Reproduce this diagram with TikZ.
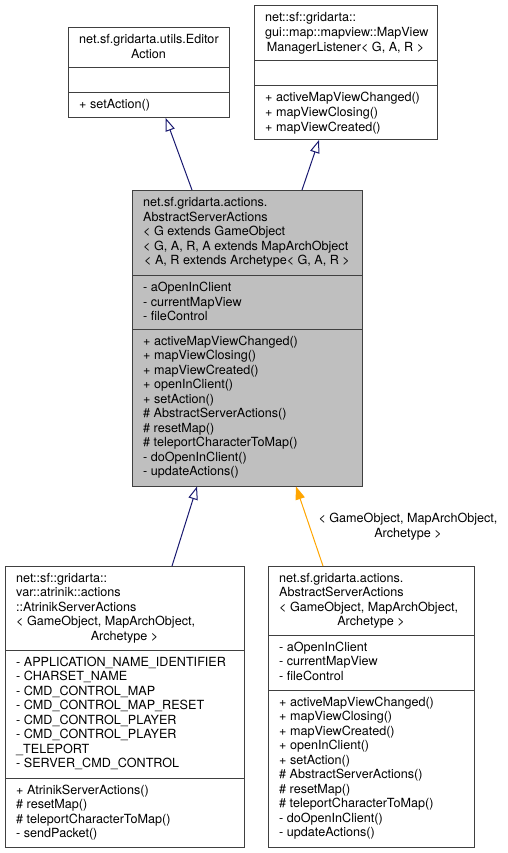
\documentclass[tikz,border=0pt]{standalone}
\usepackage{fontspec}
\setmainfont{TeX Gyre Heros}
\usepackage{xcolor}
\usetikzlibrary{arrows.meta,positioning}

\definecolor{edgeblue}{HTML}{191970}
\definecolor{edgeorange}{HTML}{FFA500}
\definecolor{boxline}{HTML}{404040}
\definecolor{boxgray}{HTML}{BFBFBF}

\tikzset{
  classbox/.style={rectangle, draw=boxline, line width=1pt, fill=white, inner sep=0pt, outer sep=0pt},
  members/.style={anchor=base west, align=left, inner sep=0pt, font=\fontsize{12.6}{14.55}\selectfont},
  lastline/.style={anchor=base, align=center, inner sep=0pt, font=\fontsize{12.6}{14.55}\selectfont},
  sep/.style={draw=boxline, line width=1pt},
  inherit/.style={draw=edgeblue, line width=1pt, -{Triangle[open, length=13pt, width=9.5pt, fill=white]}},
  bound/.style={draw=edgeorange, line width=1pt, -{Triangle[length=13pt, width=9.5pt]}}
}

\begin{document}
\begin{tikzpicture}[x=1pt, y=-1pt]
    \useasboundingbox (0,0) rectangle (507,853);

    % EditorAction
    \node[classbox, minimum width=161pt, minimum height=90pt] (editor) at (148.5,73) {};
    \draw[sep] (editor.west |- 0,68) -- (editor.east |- 0,68);
    \draw[sep] (editor.west |- 0,93) -- (editor.east |- 0,93);
    \node[members] (editor-name) at (79,44) {net.sf.gridarta.utils.Editor};
    \node[lastline] (editor-name2) at (148.5,58.5) {Action};
    \node[members] (editor-ops) at (79,109) {+ setAction()};

    % MapViewManagerListener
    \node[classbox, minimum width=183pt, minimum height=134pt] (listener) at (345.5,73) {};
    \draw[sep] (listener.west |- 0,60.5) -- (listener.east |- 0,60.5);
    \draw[sep] (listener.west |- 0,86) -- (listener.east |- 0,86);
    \node[members] (listener-name) at (265,36.55) {net::sf::gridarta::\\gui::map::mapview::MapView};
    \node[lastline] (listener-name2) at (345.5,51.1) {ManagerListener< G, A, R >};
    \node[members] (listener-ops) at (265,131.1) {+ activeMapViewChanged()\\+ mapViewClosing()\\+ mapViewCreated()};

    % AbstractServerActions (generic)
    \node[classbox, fill=boxgray, minimum width=230pt, minimum height=296.5pt] (actions) at (247,338.25) {};
    \draw[sep] (actions.west |- 0,275.5) -- (actions.east |- 0,275.5);
    \draw[sep] (actions.west |- 0,329) -- (actions.east |- 0,329);
    \node[members] (actions-name) at (143,250.15) {net.sf.gridarta.actions.\\AbstractServerActions\\< G extends GameObject\\< G, A, R, A extends MapArchObject};
    \node[lastline] (actions-name2) at (247,264.7) {< A, R extends Archetype< G, A, R >};
    \node[members] (actions-attrs) at (143,320.6) {- aOpenInClient\\- currentMapView\\- fileControl};
    \node[members] (actions-ops) at (143,475.95) {+ activeMapViewChanged()\\+ mapViewClosing()\\+ mapViewCreated()\\+ openInClient()\\+ setAction()\\\# AbstractServerActions()\\\# resetMap()\\\# teleportCharacterToMap()\\- doOpenInClient()\\- updateActions()};

    % AtrinikServerActions
    \node[classbox, minimum width=239pt, minimum height=281pt] (atrinik) at (124.5,706.5) {};
    \draw[sep] (atrinik.west |- 0,650) -- (atrinik.east |- 0,650);
    \draw[sep] (atrinik.west |- 0,778) -- (atrinik.east |- 0,778);
    \node[members] (atrinik-name) at (16,625.65) {net::sf::gridarta::\\var::atrinik::actions\\::AtrinikServerActions\\< GameObject, MapArchObject,};
    \node[lastline] (atrinik-name2) at (124.5,640.2) {Archetype >};
    \node[members] (atrinik-attrs) at (16,767.85) {- APPLICATION\_NAME\_IDENTIFIER\\- CHARSET\_NAME\\- CMD\_CONTROL\_MAP\\- CMD\_CONTROL\_MAP\_RESET\\- CMD\_CONTROL\_PLAYER\\- CMD\_CONTROL\_PLAYER\\\_TELEPORT\\- SERVER\_CMD\_CONTROL};
    \node[members] (atrinik-ops) at (16,837.65) {+ AtrinikServerActions()\\\# resetMap()\\\# teleportCharacterToMap()\\- sendPacket()};

    % AbstractServerActions (bound)
    \node[classbox, minimum width=206pt, minimum height=281pt] (bound) at (371,706.5) {};
    \draw[sep] (bound.west |- 0,635) -- (bound.east |- 0,635);
    \draw[sep] (bound.west |- 0,690) -- (bound.east |- 0,690);
    \node[members] (bound-name) at (279,611.1) {net.sf.gridarta.actions.\\AbstractServerActions\\< GameObject, MapArchObject,};
    \node[lastline] (bound-name2) at (371,625.6) {Archetype >};
    \node[members] (bound-attrs) at (279,680.1) {- aOpenInClient\\- currentMapView\\- fileControl};
    \node[members] (bound-ops) at (279,836.95) {+ activeMapViewChanged()\\+ mapViewClosing()\\+ mapViewCreated()\\+ openInClient()\\+ setAction()\\\# AbstractServerActions()\\\# resetMap()\\\# teleportCharacterToMap()\\- doOpenInClient()\\- updateActions()};

    % Inheritance
    \draw[inherit] (actions.north -| 192,0) -- (editor.south -| 165.7,0);
    \draw[inherit] (actions.north -| 302,0) -- (listener.south -| 319,0);
    \draw[inherit] (atrinik.north -| 172,0) -- (actions.south -| 197,0);
    \draw[bound] (bound.north -| 323,0) -- (actions.south -| 296,0);
    \node[lastline] (bound-args) at (408,537.5) {< GameObject, MapArchObject,\\Archetype >};

\end{tikzpicture}
\end{document}
